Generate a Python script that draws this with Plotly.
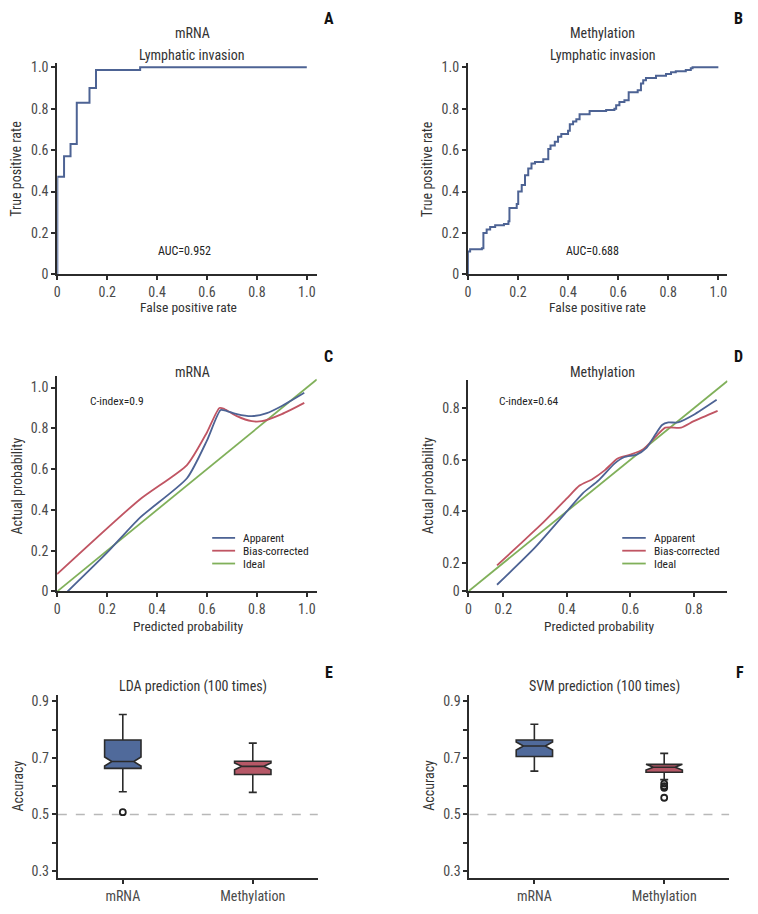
import plotly.graph_objects as go

# page body has an 8px margin; figure is sized so it fits the 758x914 window exactly
OFF = 8
W, H = 750, 898
FONT = "Roboto Condensed, DejaVu Sans Condensed, sans-serif"

# ---------------- data ----------------
# A: ROC mRNA
fpr_a = [0, 0, 0.027, 0.053, 0.078, 0.129, 0.155, 0.332, 1.0]
tpr_a = [0, 0.471, 0.571, 0.630, 0.829, 0.900, 0.987, 1.0, 1.0]
# B: ROC methylation
fpr_b = [0, 0, 0.009, 0.056, 0.062, 0.075, 0.089, 0.109, 0.144, 0.162,
         0.166, 0.195, 0.201, 0.215, 0.228, 0.241, 0.254, 0.268, 0.301, 0.321,
         0.33, 0.347, 0.36, 0.373, 0.4, 0.407, 0.42, 0.433, 0.446, 0.486,
         0.552, 0.585, 0.592, 0.605, 0.625, 0.642, 0.678, 0.691, 0.7, 0.711,
         0.751, 0.791, 0.811, 0.83, 0.87, 0.89, 0.897, 1.0]
tpr_b = [0, 0.111, 0.122, 0.127, 0.2, 0.217, 0.229, 0.237, 0.244, 0.257,
         0.321, 0.34, 0.40, 0.432, 0.479, 0.511, 0.535, 0.543, 0.556, 0.606,
         0.622, 0.641, 0.665, 0.678, 0.694, 0.725, 0.738, 0.749, 0.773, 0.789,
         0.794, 0.8, 0.816, 0.832, 0.841, 0.879, 0.889, 0.921, 0.937, 0.948,
         0.959, 0.968, 0.976, 0.981, 0.987, 0.995, 1.0, 1.0]
auc_a, auc_b = "AUC=0.952", "AUC=0.688"

# C: calibration mRNA
c_app_x = [0.042, 0.2, 0.33, 0.52, 0.6, 0.655, 0.68, 0.72, 0.78, 0.84, 0.9, 0.99]
c_app_y = [0.0, 0.19, 0.36, 0.555, 0.74, 0.89, 0.885, 0.87, 0.86, 0.875, 0.91, 0.975]
c_bias_x = [0.0, 0.33, 0.52, 0.6, 0.65, 0.67, 0.72, 0.78, 0.82, 0.9, 0.99]
c_bias_y = [0.085, 0.45, 0.62, 0.78, 0.90, 0.895, 0.86, 0.835, 0.835, 0.87, 0.925]
c_ideal = [0.0, 1.04]
# D: calibration methylation
d_app_x = [0.18, 0.30, 0.40, 0.45, 0.50, 0.55, 0.58, 0.62, 0.65, 0.68, 0.70, 0.72, 0.75, 0.80, 0.872]
d_app_y = [0.115, 0.26, 0.40, 0.47, 0.52, 0.585, 0.61, 0.62, 0.645, 0.70, 0.735, 0.745, 0.745, 0.775, 0.833]
d_bias_x = [0.18, 0.25, 0.32, 0.40, 0.44, 0.48, 0.52, 0.56, 0.60, 0.64, 0.68, 0.71, 0.76, 0.80, 0.875]
d_bias_y = [0.19, 0.27, 0.35, 0.45, 0.50, 0.525, 0.56, 0.605, 0.62, 0.64, 0.69, 0.725, 0.725, 0.75, 0.79]
d_ideal = [0.09, 0.906]
cidx_c, cidx_d = "C-index=0.9", "C-index=0.64"
legend_names = ["Apparent", "Bias-corrected", "Ideal"]

# E/F: box plots (precomputed stats)
box_cats = ["mRNA", "Methylation"]
e_q1 = [0.663, 0.641]; e_med = [0.687, 0.670]; e_q3 = [0.763, 0.688]
e_lo = [0.580, 0.578]; e_hi = [0.853, 0.752]; e_notch = [0.016, 0.012]
e_out_cat = [1]; e_out_val = [0.508]
f_q1 = [0.705, 0.649]; f_med = [0.742, 0.667]; f_q3 = [0.763, 0.677]
f_lo = [0.653, 0.623]; f_hi = [0.819, 0.716]; f_notch = [0.014, 0.010]
f_out_cat = [2, 2, 2, 2]; f_out_val = [0.609, 0.600, 0.594, 0.559]

# ---------------- styling ----------------
BLUE = "#4d6394"
RED = "#c05563"
GREEN = "#80b05a"
BOXBLUE = "#506a9b"
BOXRED = "#b65867"
AX = "#2b2b2b"
TICK = "#4a4a4a"


def px2x(p):
    return (p - OFF) / W


def px2y(p):
    return 1 - (p - OFF) / H


fig = go.Figure()

# ---- traces ----
fig.add_trace(go.Scatter(x=fpr_a, y=tpr_a, mode="lines", line=dict(color=BLUE, width=2, shape="hv"),
                         xaxis="x", yaxis="y", showlegend=False))
fig.add_trace(go.Scatter(x=fpr_b, y=tpr_b, mode="lines", line=dict(color=BLUE, width=2, shape="hv"),
                         xaxis="x2", yaxis="y2", showlegend=False))

fig.add_trace(go.Scatter(x=c_ideal, y=c_ideal, mode="lines", line=dict(color=GREEN, width=1.8),
                         xaxis="x3", yaxis="y3", showlegend=False, cliponaxis=False))
fig.add_trace(go.Scatter(x=c_bias_x, y=c_bias_y, mode="lines", line=dict(color=RED, width=1.8, shape="spline", smoothing=0.6),
                         xaxis="x3", yaxis="y3", showlegend=False))
fig.add_trace(go.Scatter(x=c_app_x, y=c_app_y, mode="lines", line=dict(color=BLUE, width=1.8, shape="spline", smoothing=0.6),
                         xaxis="x3", yaxis="y3", showlegend=False))

fig.add_trace(go.Scatter(x=d_ideal, y=d_ideal, mode="lines", line=dict(color=GREEN, width=1.8),
                         xaxis="x4", yaxis="y4", showlegend=False, cliponaxis=False))
fig.add_trace(go.Scatter(x=d_bias_x, y=d_bias_y, mode="lines", line=dict(color=RED, width=1.8, shape="spline", smoothing=0.6),
                         xaxis="x4", yaxis="y4", showlegend=False))
fig.add_trace(go.Scatter(x=d_app_x, y=d_app_y, mode="lines", line=dict(color=BLUE, width=1.8, shape="spline", smoothing=0.6),
                         xaxis="x4", yaxis="y4", showlegend=False))


def add_boxes(q1, med, q3, lo, hi, notch, xa, ya):
    fills = [BOXBLUE, BOXRED]
    for i in range(2):
        fig.add_trace(go.Box(x=[i + 1], q1=[q1[i]], median=[med[i]], q3=[q3[i]],
                             lowerfence=[lo[i]], upperfence=[hi[i]], notchspan=[notch[i]],
                             notched=True, notchwidth=0.2, width=0.28, whiskerwidth=0.22,
                             fillcolor=fills[i], line=dict(color=AX, width=1.6),
                             boxpoints=False, xaxis=xa, yaxis=ya, showlegend=False))


add_boxes(e_q1, e_med, e_q3, e_lo, e_hi, e_notch, "x5", "y5")
add_boxes(f_q1, f_med, f_q3, f_lo, f_hi, f_notch, "x6", "y6")
fig.add_trace(go.Scatter(x=e_out_cat, y=e_out_val, mode="markers",
                         marker=dict(symbol="circle-open", size=6, color="#222", line=dict(width=1.8)),
                         xaxis="x5", yaxis="y5", showlegend=False))
fig.add_trace(go.Scatter(x=f_out_cat, y=f_out_val, mode="markers",
                         marker=dict(symbol="circle-open", size=6, color="#222", line=dict(width=1.8)),
                         xaxis="x6", yaxis="y6", showlegend=False))


# ---- axes ----
def ax_common(**kw):
    d = dict(showgrid=False, zeroline=False, showline=True, linecolor=AX, linewidth=2,
             ticks="outside", ticklen=4, tickwidth=1.5, tickcolor=AX,
             tickfont=dict(family=FONT, size=14, color=TICK), fixedrange=True)
    d.update(kw)
    return d


tv01 = [0, 0.2, 0.4, 0.6, 0.8, 1.0]
tt01 = ["0", "0.2", "0.4", "0.6", "0.8", "1.0"]

rows = {
    "AB": (px2y(274), px2y(60)),
    "CD": (px2y(595.3), px2y(377.3)),
    "D": (px2y(595.3), px2y(380.7)),
    "EF": (px2y(886), px2y(700)),
}

layout_axes = dict(
    xaxis=ax_common(domain=[px2x(54.5), px2x(315)], range=[0, 1.04], tickvals=tv01, ticktext=tt01, anchor="y"),
    yaxis=ax_common(domain=list(rows["AB"]), range=[0, 1.019], tickvals=tv01, ticktext=tt01, anchor="x"),
    xaxis2=ax_common(domain=[px2x(466.7), px2x(727)], range=[0, 1.035], tickvals=tv01, ticktext=tt01, anchor="y2"),
    yaxis2=ax_common(domain=list(rows["AB"]), range=[0, 1.019], tickvals=tv01, ticktext=tt01, anchor="x2"),
    xaxis3=ax_common(domain=[px2x(54.3), px2x(315)], range=[0, 1.04], tickvals=tv01, ticktext=tt01, anchor="y3"),
    yaxis3=ax_common(domain=list(rows["CD"]), range=[0, 1.055], tickvals=tv01, ticktext=tt01, anchor="x3"),
    xaxis4=ax_common(domain=[px2x(467.3), px2x(727.3)], range=[0.09, 0.906],
                     tickvals=[0.09, 0.2, 0.4, 0.6, 0.8], ticktext=["0", "0.2", "0.4", "0.6", "0.8"], anchor="y4"),
    yaxis4=ax_common(domain=list(rows["D"]), range=[0.089, 0.911],
                     tickvals=[0.089, 0.2, 0.4, 0.6, 0.8], ticktext=["0", "0.2", "0.4", "0.6", "0.8"], anchor="x4"),
    xaxis5=ax_common(domain=[px2x(55), px2x(316)], range=[0.5, 2.5], tickvals=[1, 2], ticktext=box_cats, anchor="y5"),
    yaxis5=ax_common(domain=list(rows["EF"]), range=[0.2745, 0.923],
                     tickvals=[0.3, 0.4, 0.5, 0.6, 0.7, 0.8, 0.9],
                     ticktext=["0.3", "", "0.5", "", "0.7", "", "0.9"], anchor="x5"),
    xaxis6=ax_common(domain=[px2x(468.3), px2x(729)], range=[0.5, 2.5], tickvals=[1, 2], ticktext=box_cats, anchor="y6"),
    yaxis6=ax_common(domain=list(rows["EF"]), range=[0.2745, 0.923],
                     tickvals=[0.3, 0.4, 0.5, 0.6, 0.7, 0.8, 0.9],
                     ticktext=["0.3", "", "0.5", "", "0.7", "", "0.9"], anchor="x6"),
)

# ---- annotations ----
ann = []


def text(t, x, y, size=13, color="#333", bold=False, angle=0, xanchor="center"):
    ann.append(dict(text=("<b>%s</b>" % t) if bold else t, x=px2x(x), y=px2y(y), xref="paper", yref="paper",
                    showarrow=False, xanchor=xanchor, yanchor="middle", textangle=angle,
                    font=dict(family=FONT, size=size, color=color)))


# panel titles
text("mRNA", 190, 29, 14)
text("Lymphatic invasion", 190, 52, 14)
text("Methylation", 602, 29, 14)
text("Lymphatic invasion", 602, 52, 14)
text("mRNA", 190, 373, 14)
text("Methylation", 602, 373, 14)
text("LDA prediction (100 times)", 191, 692, 14)
text("SVM prediction (100 times)", 604, 692, 14)
# panel letters
for L, x, y in [("A", 327, 15), ("B", 738, 15), ("C", 327, 357), ("D", 738, 357), ("E", 327, 677), ("F", 740, 677)]:
    text(L, x, y, 16, "#111", bold=True)
# axis titles
text("False positive rate", 186, 307.5, 13.5)
text("False positive rate", 597, 307.5, 13.5)
text("Predicted probability", 186, 630.5, 13.5)
text("Predicted probability", 598, 630.5, 13.5)
text("True positive rate", 13, 167, 14, angle=-90)
text("True positive rate", 426, 167, 14, angle=-90)
text("Actual probability", 14, 488, 14, angle=-90)
text("Actual probability", 426, 488, 14, angle=-90)
text("Accuracy", 15, 792, 14, angle=-90)
text("Accuracy", 427, 792, 14, angle=-90)
# in-plot text
text(auc_a, 182, 250, 12, "#222")
text(auc_b, 592, 250, 12, "#222")
text(cidx_c, 114, 402, 11.5, "#222")
text(cidx_d, 528, 402, 11.5, "#222")

# legends (C and D) drawn with shapes + text
shapes = []
leg_colors = [BLUE, RED, GREEN]
leg_rows = [541, 554, 567]
for (x0, x1, xt) in [(210, 233, 239), (621.7, 645.3, 651.7)]:
    for name, col, yy in zip(legend_names, leg_colors, leg_rows):
        shapes.append(dict(type="line", xref="paper", yref="paper", x0=px2x(x0), x1=px2x(x1),
                           y0=px2y(yy), y1=px2y(yy), line=dict(color=col, width=1.8)))
        text(name, xt, yy, 11.5, "#222", xanchor="left")

# dashed 0.5 reference lines in E/F
for xa, ya in [("x5", "y5"), ("x6", "y6")]:
    shapes.append(dict(type="line", xref=xa + " domain", yref=ya, x0=0, x1=1, y0=0.5, y1=0.5,
                       line=dict(color="#b8b8b8", width=1.5, dash="dash"), layer="below"))

fig.update_layout(
    width=W, height=H, margin=dict(l=0, r=0, t=0, b=0),
    paper_bgcolor="white", plot_bgcolor="white",
    font=dict(family=FONT, size=13, color="#333"),
    showlegend=False, annotations=ann, shapes=shapes,
    **layout_axes,
)

fig.write_html("out.html")
